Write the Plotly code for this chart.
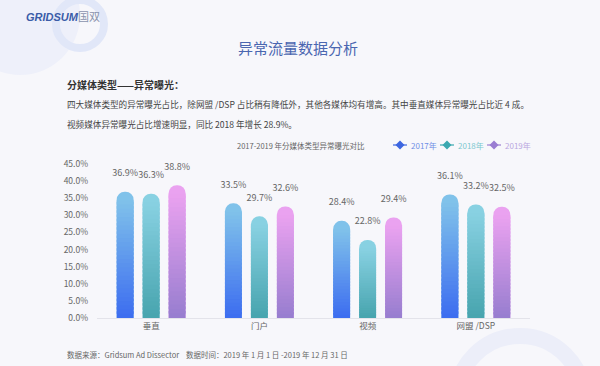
import plotly.graph_objects as go

categories = ["垂直", "门户", "视频", "网盟 /DSP"]
years = ["2017年", "2018年", "2019年"]
v2017 = [36.9, 33.5, 28.4, 36.1]
v2018 = [36.3, 29.7, 22.8, 33.2]
v2019 = [38.8, 32.6, 29.4, 32.5]
ytick_vals = [0, 5, 10, 15, 20, 25, 30, 35, 40, 45]

W, H = 600, 366
FONT = "Noto Sans CJK SC, Noto Sans, sans-serif"

def px(x): return x / W
def py(y): return 1 - y / H

def hex2rgb(h):
    h = h.lstrip("#")
    return [int(h[i:i + 2], 16) for i in (0, 2, 4)]

def mix(c1, c2, t):
    a, b = hex2rgb(c1), hex2rgb(c2)
    return "rgb(%d,%d,%d)" % tuple(round(a[i] + (b[i] - a[i]) * t) for i in range(3))

# name, values, bottom colour, top colour, legend colour, legend text colour, legend x(px)
series = [
    (years[0], v2017, "#3c6cf0", "#80c2ea", "#3d66e0", "#6f8fe6", 400),
    (years[1], v2018, "#47a4ae", "#88d1e2", "#3aa8b0", "#7cc8cf", 447),
    (years[2], v2019, "#977dcf", "#eaa2f0", "#9a7dd2", "#b9a6e0", 494),
]

fig = go.Figure()
N = 28
R = 2.5  # height (axis units) of the rounded top

shapes = [
    dict(type="circle", xref="paper", yref="paper", layer="below",
         x0=px(-40), x1=px(80), y0=py(-45), y1=py(75),
         fillcolor="#eef0fa", line=dict(width=0)),
    dict(type="circle", xref="paper", yref="paper", layer="below",
         x0=px(56), x1=px(104), y0=py(0), y1=py(48),
         fillcolor="rgba(0,0,0,0)", line=dict(width=8, color="#e1e7f8")),
    dict(type="circle", xref="paper", yref="paper", layer="below",
         x0=px(456), x1=px(584), y0=py(336), y1=py(464),
         fillcolor="rgba(0,0,0,0)", line=dict(width=16, color="#eceef9")),
]
annotations = []

for name, vals, cbot, ctop, cleg, ctext, lx in series:
    # full rounded bar underneath (shows the top colour in the rounded cap)
    fig.add_trace(go.Bar(
        x=categories, y=vals, offsetgroup=name,
        marker=dict(color=ctop, line=dict(width=0), cornerradius=9),
        text=["%.1f%%" % v for v in vals],
        texttemplate="%{text}<br><span style='font-size:4px'> </span>",
        textposition="outside", constraintext="none",
        textfont=dict(size=9, color="#666666", family=FONT),
        cliponaxis=False, showlegend=False, hoverinfo="skip",
    ))
    # gradient body drawn in thin slices on top
    for i in range(N):
        t0 = i / N
        t1 = min((i + 1.6) / N, 1.0)
        fig.add_trace(go.Bar(
            x=categories,
            y=[(v - R) * (t1 - t0) for v in vals],
            base=[(v - R) * t0 for v in vals],
            offsetgroup=name,
            marker=dict(color=mix(cbot, ctop, t0 + 0.5 / N), line=dict(width=0)),
            showlegend=False, hoverinfo="skip",
        ))
    # legend entry: short line + diamond + coloured label
    ly = 145
    shapes.append(dict(type="line", xref="paper", yref="paper",
                       x0=px(lx - 7), x1=px(lx + 7), y0=py(ly), y1=py(ly),
                       line=dict(color=cleg, width=1.2)))
    shapes.append(dict(type="path", xref="paper", yref="paper",
                       path="M %f %f L %f %f L %f %f L %f %f Z" % (
                           px(lx), py(ly - 4.5), px(lx + 4.5), py(ly),
                           px(lx), py(ly + 4.5), px(lx - 4.5), py(ly)),
                       fillcolor=cleg, line=dict(width=0)))
    annotations.append(dict(text=name, x=px(lx + 9), y=py(ly), xanchor="left", yanchor="middle",
                            font=dict(size=8, color=ctext, family=FONT)))

annotations += [
    dict(text="<b><i>GRIDSUM</i></b><span style='color:#8a93ad'>国双</span>",
         x=px(24), y=py(17), xanchor="left", yanchor="middle",
         font=dict(size=11, color="#3a5ca8", family="Liberation Sans, " + FONT)),
    dict(text="异常流量数据分析", x=px(298), y=py(47), xanchor="center", yanchor="middle",
         font=dict(size=15, color="#4a66b0", family=FONT)),
    dict(text="<b>分媒体类型——异常曝光：</b>", x=px(65), y=py(84), xanchor="left", yanchor="middle",
         font=dict(size=10, color="#333333", family=FONT)),
    dict(text="四大媒体类型的异常曝光占比，除网盟 /DSP 占比稍有降低外，其他各媒体均有增高。其中垂直媒体异常曝光占比近 4 成。",
         x=px(65), y=py(104), xanchor="left", yanchor="middle",
         font=dict(size=8.6, color="#444444", family=FONT)),
    dict(text="视频媒体异常曝光占比增速明显，同比 2018 年增长 28.9%。",
         x=px(65), y=py(124), xanchor="left", yanchor="middle",
         font=dict(size=8.6, color="#444444", family=FONT)),
    dict(text="2017-2019 年分媒体类型异常曝光对比", x=px(235), y=py(145), xanchor="left", yanchor="middle",
         font=dict(size=7.5, color="#666666", family=FONT)),
    dict(text="数据来源：Gridsum Ad Dissector    数据时间：2019 年 1 月 1 日 -2019 年 12 月 31 日",
         x=px(65), y=py(354), xanchor="left", yanchor="middle",
         font=dict(size=7.5, color="#666666", family=FONT)),
]
for a in annotations:
    a.update(xref="paper", yref="paper", showarrow=False)

fig.update_layout(
    width=W, height=H,
    margin=dict(l=0, r=0, t=0, b=0, autoexpand=False),
    paper_bgcolor="#f7f7fb", plot_bgcolor="rgba(0,0,0,0)",
    barmode="group", bargap=0.28, bargroupgap=0.35,
    font=dict(family=FONT, size=9, color="#666666"),
    showlegend=False,
    shapes=shapes, annotations=annotations,
    xaxis=dict(domain=[px(97), px(530)], showgrid=False, showline=True,
               linecolor="#e3e3ea", linewidth=1, ticks="", zeroline=False,
               tickfont=dict(size=8.5, color="#666666"), fixedrange=True),
    yaxis=dict(domain=[py(318), py(164)], range=[0, 45], tickvals=ytick_vals,
               ticktext=["%.1f%%" % v for v in ytick_vals],
               showgrid=False, zeroline=False, showline=False, ticks="",
               ticklabelstandoff=8,
               tickfont=dict(size=8.5, color="#666666"), fixedrange=True),
)

fig.write_html("out.html", config={"displayModeBar": False},
               post_script="document.body.style.margin='0';document.body.style.overflow='hidden';")
